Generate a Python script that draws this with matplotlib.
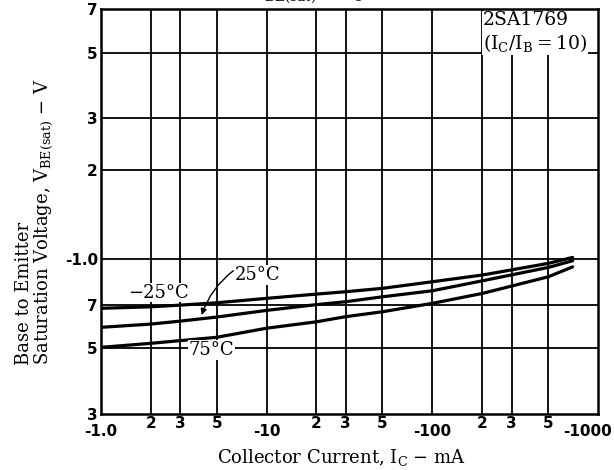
import matplotlib
matplotlib.use("Agg")
import matplotlib.pyplot as plt
import matplotlib.transforms as mtransforms

# collector current magnitude (mA) and V_BE(sat) magnitude (V)
ic_ma = [1, 2, 3, 5, 10, 20, 30, 50, 100, 200, 500, 700]
vbe_m25 = [0.683, 0.691, 0.70, 0.713, 0.738, 0.763, 0.777, 0.798, 0.84, 0.885, 0.969, 1.015]
vbe_25 = [0.589, 0.604, 0.618, 0.638, 0.672, 0.703, 0.719, 0.747, 0.783, 0.846, 0.939, 0.989]
vbe_75 = [0.504, 0.52, 0.531, 0.545, 0.585, 0.615, 0.64, 0.665, 0.71, 0.767, 0.873, 0.943]

x_major = [1, 10, 100, 1000]
x_major_labels = ["-1.0", "-10", "-100", "-1000"]
x_minor = [2, 3, 5, 20, 30, 50, 200, 300, 500]
x_minor_labels = ["2", "3", "5", "2", "3", "5", "2", "3", "5"]
y_ticks = [0.3, 0.5, 0.7, 1.0, 2, 3, 5, 7]
y_labels = ["3", "5", "7", "-1.0", "2", "3", "5", "7"]

plt.rcParams["mathtext.fontset"] = "dejavuserif"
serif = "DejaVu Serif"

fig = plt.figure(figsize=(6.14, 4.70), dpi=100)
ax = fig.add_axes([0.164, 0.1191, 0.8104, 0.8611])
ax.set_xscale("log")
ax.set_yscale("log")
ax.set_xlim(1, 1000)
ax.set_ylim(0.3, 7)

# grid lines only at the labelled values
for v in x_minor + [10, 100]:
    ax.axvline(v, color="black", lw=1.3, zorder=1)
for v in [0.5, 0.7, 1.0, 2, 3, 5]:
    ax.axhline(v, color="black", lw=1.3, zorder=1)

for vals in [vbe_m25, vbe_25, vbe_75]:
    ax.plot(ic_ma, vals, color="black", lw=2.3, zorder=3, solid_capstyle="round")

for s in ax.spines.values():
    s.set_linewidth(1.8)

tick_font = dict(family="DejaVu Sans", weight="bold", size=11)
ax.set_xticks(x_major, x_major_labels, **tick_font)
ax.set_xticks(x_minor, x_minor_labels, minor=True, **tick_font)
ax.set_yticks(y_ticks, y_labels, **tick_font)
ax.yaxis.set_minor_locator(matplotlib.ticker.NullLocator())
ax.tick_params(axis="x", which="major", length=0, pad=7)
ax.tick_params(axis="x", which="minor", length=0, pad=1.5)
ax.tick_params(axis="y", length=0, pad=2)

# last x label sits left of the corner
lbl = ax.get_xticklabels()[-1]
lbl.set_transform(lbl.get_transform() + mtransforms.ScaledTranslation(-0.11, 0, fig.dpi_scale_trans))

# curve labels
bg = dict(facecolor="white", edgecolor="none", pad=0.5)
ax.text(2.22, 0.771, "\u221225\u00b0C", family=serif, fontsize=13, ha="center", va="center", bbox=bg, zorder=4)
ax.text(4.65, 0.494, "75\u00b0C", family=serif, fontsize=13, ha="center", va="center", bbox=bg, zorder=4)
ax.text(6.45, 0.884, "25\u00b0C", family=serif, fontsize=13, ha="left", va="center", bbox=bg, zorder=4)
ax.annotate("", xy=(4.06, 0.648), xytext=(6.3, 0.915),
            arrowprops=dict(arrowstyle="-|>", color="black", lw=1.0, mutation_scale=9,
                            shrinkA=0, shrinkB=0, connectionstyle="arc3,rad=0.15"), zorder=5)

ax.text(0.768, 0.995, "2SA1769\n($\\mathregular{I_C/I_B = 10}$)", transform=ax.transAxes,
        family=serif, fontsize=13.5, ha="left", va="top", linespacing=1.15,
        bbox=dict(facecolor="white", edgecolor="none", pad=1.0), zorder=4)

fig.text(341 / 614, 1 - 457 / 470, "Collector Current, $\\mathregular{I_C}$ \u2212 mA",
         family=serif, fontsize=13, ha="center", va="center")
fig.text(35 / 614, 1 - 365 / 470,
         "Base to Emitter\nSaturation Voltage, $\\mathregular{V_{BE(sat)}}$ \u2212 V",
         family=serif, fontsize=13, rotation=90, ha="center", va="bottom",
         multialignment="left", linespacing=0.95)
# title cut off at the top edge
fig.text(250 / 614, 1 + 1 / 470, "$\\mathregular{V_{BE(sat)}}$ \u2212 $\\mathregular{I_C}$",
         family=serif, fontsize=14, ha="left", va="baseline")

fig.savefig("out.png", dpi=100)
